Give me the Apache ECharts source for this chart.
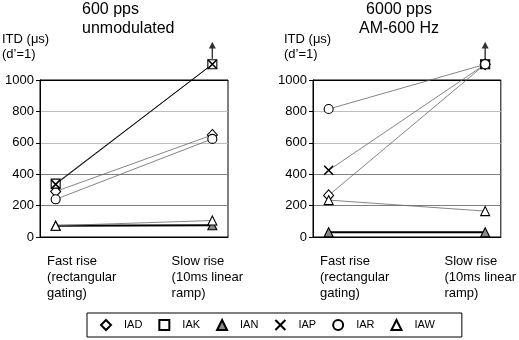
<!DOCTYPE html>
<html>
<head>
<meta charset="utf-8">
<script src="https://cdn.jsdelivr.net/npm/echarts@6/dist/echarts.min.js"></script>
<style>
  html, body { margin: 0; padding: 0; background: #fff; }
  #main { width: 519px; height: 340px; }
</style>
</head>
<body>
<div id="main"></div>
<script>
// categories on the x axis (0 = fast rise, 1 = slow rise)
const categories = ['Fast rise\n(rectangular\ngating)', 'Slow rise\n(10ms linear\nramp)']
const xPos = [0, 1]
const subjects = ['IAD', 'IAK', 'IAN', 'IAP', 'IAR', 'IAW']
const yTicks = [0, 200, 400, 600, 800, 1000]
// values above 1000 are drawn at this height with an arrow
const offScale = 1100

// 600 pps unmodulated
const leftIAD = [290, 650]
const leftIAK = [340, offScale]
const leftIAN = [72, 75]
const leftIAP = [335, offScale]
const leftIAR = [240, 625]
const leftIAW = [72, 105]

// 6000 pps AM-600 Hz
const rightIAD = [265, offScale]
const rightIAK = [null, offScale]
const rightIAN = [30, 30]
const rightIAP = [425, offScale]
const rightIAR = [815, offScale]
const rightIAW = [235, 165]

const leftData = { IAD: leftIAD, IAK: leftIAK, IAN: leftIAN, IAP: leftIAP, IAR: leftIAR, IAW: leftIAW }
const rightData = { IAD: rightIAD, IAK: rightIAK, IAN: rightIAN, IAP: rightIAP, IAR: rightIAR, IAW: rightIAW }

const font = 'Liberation Sans, Arial, Helvetica, sans-serif'
const symbols = {
  IAD: 'diamond',
  IAK: 'rect',
  IAN: 'triangle',
  IAP: 'path://M0,0L10,10M10,0L0,10',
  IAR: 'circle',
  IAW: 'triangle'
}
const arrowPath = 'path://M5,0L10,8L6,8L6,20L4,20L4,8L0,8Z'

function lineFor (panel, name) {
  if (name === 'IAN') return { color: '#000', width: 2 }
  if (panel === 0 && (name === 'IAK' || name === 'IAP')) return { color: '#000', width: 0.8 }
  return { color: '#666', width: 0.8 }
}

function makeSeries (panel, name, values) {
  return {
    name: name,
    type: 'line',
    xAxisIndex: panel,
    yAxisIndex: panel,
    clip: false,
    symbol: symbols[name],
    symbolSize: name === 'IAD' ? [10, 11] : 9,
    showSymbol: true,
    itemStyle: {
      color: name === 'IAN' ? '#888' : '#fff',
      borderColor: '#000',
      borderWidth: name === 'IAP' ? 1.6 : 1.1
    },
    lineStyle: lineFor(panel, name),
    emphasis: { disabled: true },
    z: 3,
    data: values.map((v, i) => [xPos[i], v])
  }
}

// arrows over points that go past the top of the scale
function arrowSeries (panel, data) {
  const pts = []
  xPos.forEach((x, i) => {
    const hit = subjects.some(s => data[s][i] === offScale)
    if (hit) pts.push([x, offScale])
  })
  return {
    name: 'arrow',
    type: 'scatter',
    xAxisIndex: panel,
    yAxisIndex: panel,
    clip: false,
    symbol: arrowPath,
    symbolSize: [7, 17],
    symbolOffset: [0, -14],
    itemStyle: { color: '#000' },
    emphasis: { disabled: true },
    z: 4,
    data: pts
  }
}

function xAxisFor (grid) {
  return {
    type: 'value',
    gridIndex: grid,
    min: -0.1,
    max: 1.1,
    axisLine: { show: true, onZero: false, lineStyle: { color: '#000', width: 1 } },
    axisTick: { show: false },
    splitLine: { show: false },
    axisLabel: {
      customValues: [-0.055, 0.74],
      formatter: v => (v < 0.5 ? categories[0] : categories[1]),
      align: 'left',
      margin: 16,
      fontSize: 13,
      lineHeight: 16,
      color: '#000',
      fontFamily: font
    }
  }
}

function yAxisFor (grid) {
  return {
    type: 'value',
    gridIndex: grid,
    min: yTicks[0],
    max: yTicks[yTicks.length - 1],
    interval: 200,
    axisLine: { show: true, onZero: false, lineStyle: { color: '#000', width: 1 } },
    axisTick: { show: true, inside: false, length: 4, lineStyle: { color: '#000' } },
    axisLabel: { fontSize: 13, color: '#000', margin: 6, fontFamily: font, formatter: v => String(v) },
    splitLine: {
      show: true,
      lineStyle: { color: ['#000', '#808080', '#808080', '#bdbdbd', '#bdbdbd', '#000'], width: 1 }
    }
  }
}

const chart = echarts.init(document.getElementById('main'), null, { renderer: 'canvas' })

const series = []
subjects.forEach(s => series.push(makeSeries(0, s, leftData[s])))
subjects.forEach(s => series.push(makeSeries(1, s, rightData[s])))
series.push(arrowSeries(0, leftData))
series.push(arrowSeries(1, rightData))

const titleText = { fontSize: 16, fontWeight: 'normal', lineHeight: 19, color: '#000', fontFamily: font }
const nameText = { fontSize: 13, fontWeight: 'normal', lineHeight: 15, color: '#000', fontFamily: font }

chart.setOption({
  animation: false,
  backgroundColor: '#fff',
  textStyle: { fontFamily: font },
  title: [
    { text: '600 pps\nunmodulated', left: 82, top: 0, padding: 0, textStyle: titleText },
    { text: '6000 pps\nAM-600 Hz', left: 399, top: 0, padding: 0, textAlign: 'center', textStyle: titleText },
    { text: 'ITD (μs)\n(d’=1)', left: 2, top: 32, padding: 0, textStyle: nameText },
    { text: 'ITD (μs)\n(d’=1)', left: 284, top: 32, padding: 0, textStyle: nameText }
  ],
  legend: {
    data: subjects.map(s => ({ name: s, icon: symbols[s] })),
    left: 87,
    top: 313,
    orient: 'horizontal',
    itemWidth: 10,
    itemHeight: 10,
    itemGap: 16,
    padding: [6, 27, 6, 13],
    borderColor: '#000',
    borderWidth: 1,
    selectedMode: false,
    textStyle: { fontSize: 11, color: '#000', padding: [0, 0, 0, 8], fontFamily: font }
  },
  grid: [
    { left: 40, top: 80, width: 188, height: 157, show: true, borderColor: '#000', borderWidth: 1, backgroundColor: 'transparent' },
    { left: 313, top: 80, width: 192, height: 157, show: true, borderColor: '#000', borderWidth: 1, backgroundColor: 'transparent' }
  ],
  xAxis: [xAxisFor(0), xAxisFor(1)],
  yAxis: [yAxisFor(0), yAxisFor(1)],
  series: series
})
</script>
</body>
</html>
